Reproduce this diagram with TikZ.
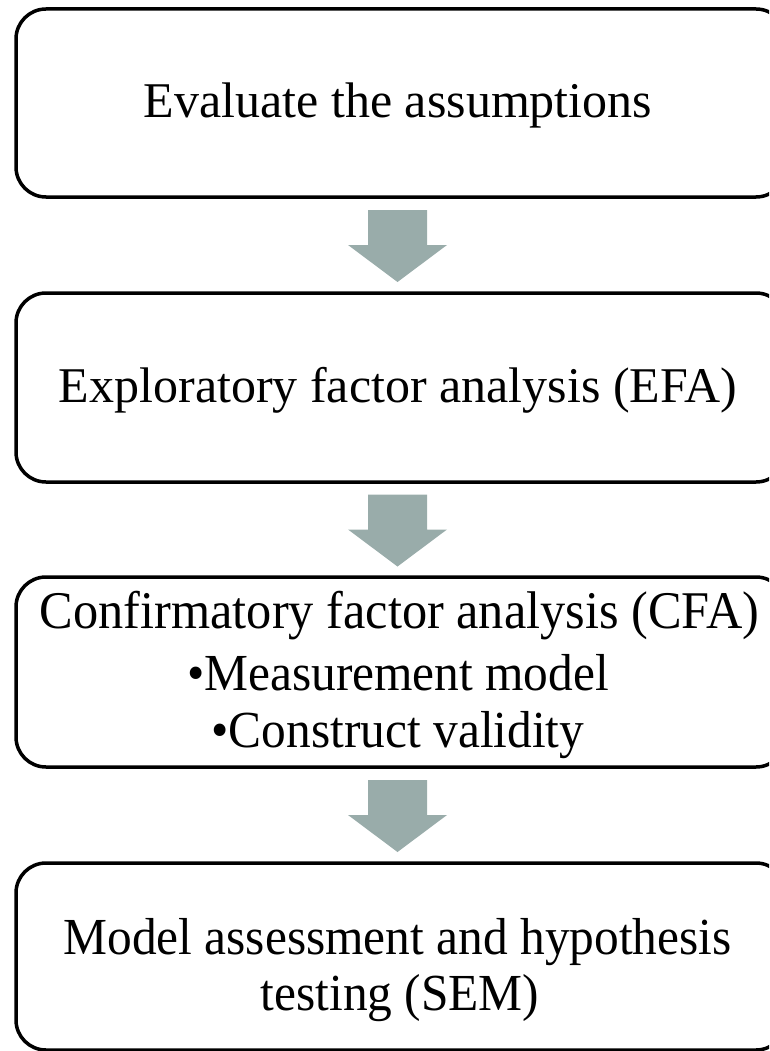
\documentclass[tikz,border=0pt]{standalone}
\usepackage{fontspec}
\setmainfont{Liberation Serif}
\newfontfamily\narrowserif[FakeStretch=0.95]{Liberation Serif}
\usetikzlibrary{calc}
\definecolor{arrowgray}{HTML}{99ACAA}
\tikzset{
  stagebox/.style={draw=black, line width=3.5pt, rounded corners=30pt,
    minimum width=770pt, inner sep=0pt},
  steptext/.style={anchor=base, inner sep=0pt, font=\fontsize{50}{58}\selectfont},
  narrowtext/.style={anchor=base, inner sep=0pt, font=\narrowserif\fontsize{52}{58}\selectfont},
  headtext/.style={anchor=base, inner sep=0pt, font=\narrowserif\fontsize{53}{58}\selectfont},
  pics/downarrow/.style={code={
    \fill[arrowgray] (-29.5,35) -- (29.5,35) -- (29.5,0) -- (49.5,0)
      -- (0,-37) -- (-49.5,0) -- (-29.5,0) -- cycle;}}
}
\begin{document}
\begin{tikzpicture}[x=1pt,y=1pt]
  \useasboundingbox (0,0) rectangle (769,-1051);
  \clip (0,0) rectangle (769,-1051);
  % the four stages
  \node[stagebox, minimum height=188pt] (b1) at (401,-103) {};
  \node[stagebox, minimum height=189pt] (b2) at (401,-387.5) {};
  \node[stagebox, minimum height=190pt] (b3) at (401,-672) {};
  \node[stagebox, minimum height=187pt] (b4) at (401,-956.5) {};
  % stage texts
  \node[steptext] (t1) at (398,-118) {Evaluate the assumptions};
  \node[steptext] (t2) at (398,-402) {Exploratory factor analysis (EFA)};
  \node[headtext] (t3a) at (399.5,-628) {Confirmatory factor analysis (CFA)};
  \node[narrowtext] (t3b) at (398,-690) {•Measurement model};
  \node[narrowtext] (t3c) at (398,-747) {•Construct validity};
  \node[narrowtext] (t4a) at (397.5,-954) {Model assessment and hypothesis};
  \node[narrowtext] (t4b) at (400,-1010) {testing (SEM)};
  % block arrows between stages
  \coordinate (m1) at ($(b1.south)!0.5!(b2.north)$);
  \coordinate (m2) at ($(b2.south)!0.5!(b3.north)$);
  \coordinate (m3) at ($(b3.south)!0.5!(b4.north)$);
  \pic[xshift=-3.5pt] at (m1) {downarrow};
  \pic[xshift=-3.5pt] at (m2) {downarrow};
  \pic[xshift=-3.5pt] at (m3) {downarrow};
\end{tikzpicture}
\end{document}
